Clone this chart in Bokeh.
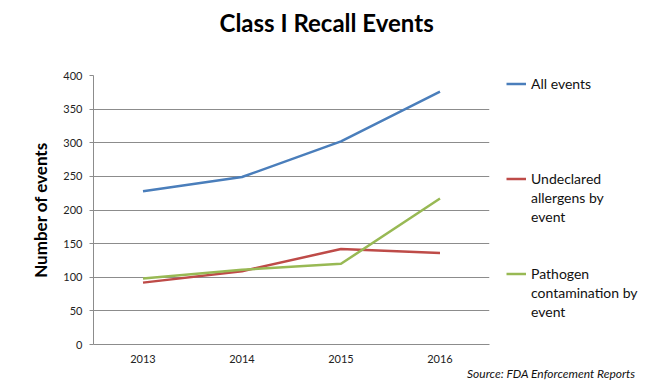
from bokeh.plotting import figure
from bokeh.models import Range1d, FixedTicker, Legend, LegendItem, Title
from bokeh.embed import file_html
from bokeh.resources import INLINE

years = [2013, 2014, 2015, 2016]
all_events = [228, 249, 302, 376]
allergens = [92, 109, 142, 136]
pathogen = [98, 111, 120, 217]
y_ticks = [0, 50, 100, 150, 200, 250, 300, 350, 400]

FONT = "Lato"
GRID = "#8c8c8c"

p = figure(frame_width=396, frame_height=269, min_border_left=93, min_border_right=161,
           min_border_top=75, min_border_bottom=46, output_backend="svg", title=None,
           toolbar_location=None, x_range=Range1d(2012.5, 2016.5), y_range=Range1d(0, 400))
p.outline_line_color = None
p.background_fill_color = "white"

r1 = p.line(years, all_events, line_color="#4A7EBB", line_width=2.5)
r2 = p.line(years, allergens, line_color="#BE4B48", line_width=2.5)
r3 = p.line(years, pathogen, line_color="#98B954", line_width=2.5)

p.xgrid.visible = False
p.ygrid.grid_line_color = GRID
p.ygrid.grid_line_width = 1
p.ygrid.ticker = FixedTicker(ticks=y_ticks)

p.yaxis.ticker = FixedTicker(ticks=y_ticks)
p.yaxis.axis_line_color = GRID
p.yaxis.major_tick_line_color = GRID
p.yaxis.major_tick_out = 4
p.yaxis.major_tick_in = 0
p.yaxis.minor_tick_line_color = None
p.yaxis.major_label_standoff = 7
p.yaxis.major_label_text_font = FONT
p.yaxis.major_label_text_font_size = "11px"
p.yaxis.major_label_text_color = "#222222"
p.yaxis.axis_label = "Number of events"
p.yaxis.axis_label_text_font = FONT
p.yaxis.axis_label_text_font_size = "17px"
p.yaxis.axis_label_text_font_style = "bold"
p.yaxis.axis_label_text_color = "black"
p.yaxis.axis_label_standoff = 9

p.xaxis.ticker = FixedTicker(ticks=years)
p.xaxis.axis_line_color = GRID
p.xaxis.major_tick_line_color = None
p.xaxis.minor_tick_line_color = None
p.xaxis.major_tick_out = 0
p.xaxis.major_tick_in = 0
p.xaxis.major_label_standoff = 10
p.xaxis.major_label_text_font = FONT
p.xaxis.major_label_text_font_size = "11px"
p.xaxis.major_label_text_color = "#222222"

blank = lambda: LegendItem(label=" ", renderers=[])
legend = Legend(items=[
    LegendItem(label="All events", renderers=[r1]),
    blank(), blank(), blank(), blank(),
    LegendItem(label="Undeclared", renderers=[r2]),
    LegendItem(label="allergens by", renderers=[]),
    LegendItem(label="event", renderers=[]),
    blank(), blank(),
    LegendItem(label="Pathogen", renderers=[r3]),
    LegendItem(label="contamination by", renderers=[]),
    LegendItem(label="event", renderers=[]),
], location=(17, 23), orientation="vertical")
legend.glyph_width = 20
legend.glyph_height = 19
legend.label_height = 19
legend.label_standoff = 5
legend.padding = 0
legend.margin = 0
legend.spacing = 0
legend.border_line_color = None
legend.background_fill_alpha = 0
legend.label_text_font = FONT
legend.label_text_font_size = "14px"
legend.label_text_color = "#111111"
p.add_layout(legend, "right")

spacer = Title(text=" ", text_font_size="1px", standoff=34)
p.add_layout(spacer, "above")
title = Title(text="Class I Recall Events", align="left", offset=126, vertical_align="top",
              text_font=FONT, text_font_size="24px", text_font_style="bold",
              text_color="black", standoff=0)
p.add_layout(title, "above")

source = Title(text="Source: FDA Enforcement Reports", align="right", offset=-146,
               vertical_align="top", text_font=FONT, text_font_size="12px",
               text_font_style="italic", text_color="#111111", standoff=0)
p.add_layout(source, "below")

open("out.html", "w").write(file_html(p, INLINE))
